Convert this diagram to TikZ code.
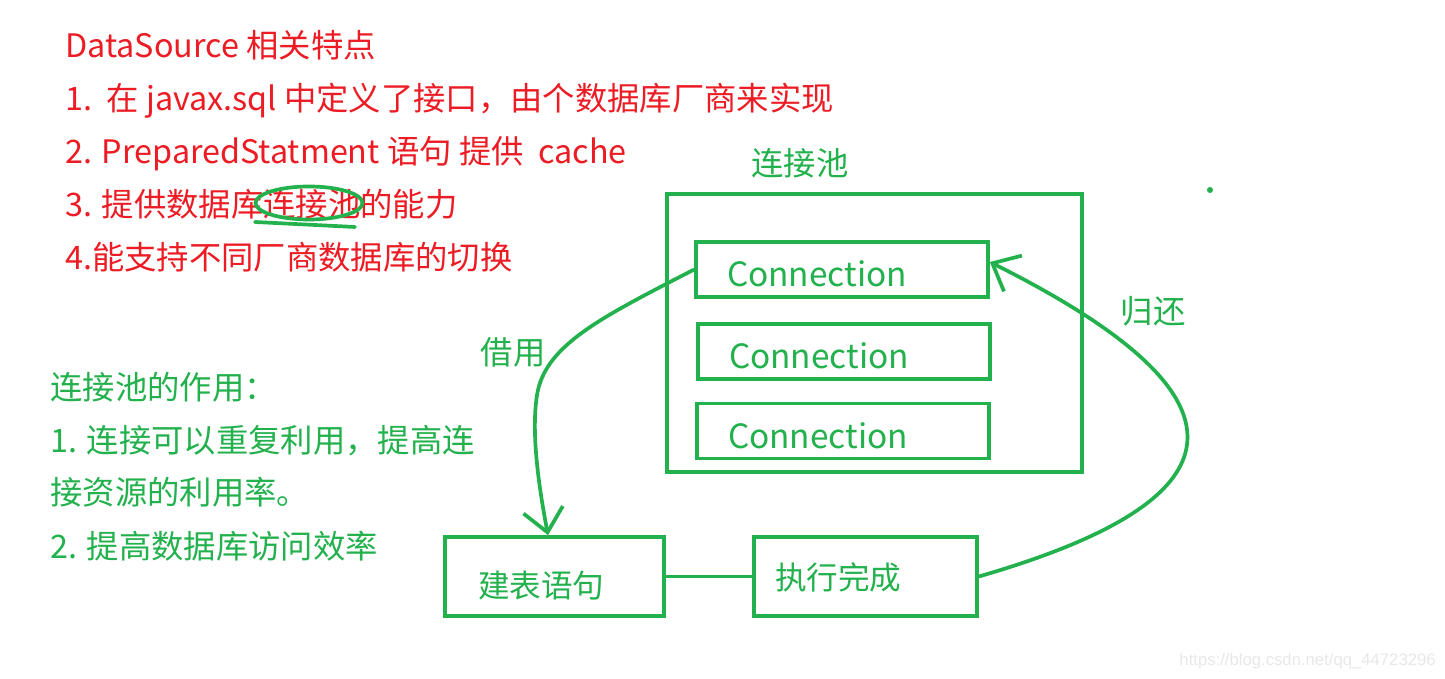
\documentclass[tikz,border=0pt]{standalone}
\usepackage{fontspec}
\setmainfont{Noto Sans CJK SC}
\newfontfamily\wmfont{Liberation Sans}
\usepackage{xcolor}
\usetikzlibrary{arrows.meta,positioning}
\definecolor{paintred}{HTML}{ED1C24}
\definecolor{paintgreen}{HTML}{22B14C}

\begin{document}
\begin{tikzpicture}[
    txt/.style={font=\fontsize{18.4}{22}\selectfont, inner sep=0pt, text height=0.88em, text depth=0.12em, anchor=west, yshift=-0.11cm},
    redline/.style={txt, text=paintred},
    greenline/.style={txt, text=paintgreen},
    box/.style={draw=paintgreen, line width=2.1pt, text=paintgreen, inner ysep=0pt},
    connbox/.style={box, font=\fontsize{19}{22}\selectfont, text width=4.6cm, inner xsep=0.62cm, minimum height=1.1cm, text height=0.7cm, text depth=0cm, align=left},
    stepbox/.style={box, font=\fontsize{18}{22}\selectfont, minimum height=1.58cm, align=left},
    flow/.style={draw=paintgreen, line width=2.1pt},
    barb/.style={-{Straight Barb[length=0.46cm, width=0.8cm]}}
]
    % fond et cadre de la page
    \fill[white] (0,0) rectangle (28.9,-13.58);
    \useasboundingbox (0,0) rectangle (28.9,-13.58);

    % Texte rouge : DataSource
    \node[redline] (r0) at (1.3,-0.9) {DataSource 相关特点};
    \node[redline] (r1) at (1.3,-1.96) {1.\ \ 在 javax.sql 中定义了接口，由个数据库厂商来实现};
    \node[redline] (r2) at (1.3,-3.02) {2. PreparedStatment 语句 提供\ \ cache};
    \node[redline] (r3) at (1.3,-4.08) {3. 提供数据库连接池的能力};
    \node[redline] (r4) at (1.3,-5.14) {4.能支持不同厂商数据库的切换};

    % cercle autour de "连接池"
    \draw[paintgreen, line width=2.1pt] (6.18,-4.06) ellipse (1.07 and 0.33);
    \draw[paintgreen, line width=2.1pt, line cap=round] (5.1,-4.44) .. controls (6.1,-4.5) .. (7.1,-4.54);

    % Texte vert : role du pool
    \node[greenline] (g0) at (1.0,-7.74) {连接池的作用：};
    \node[greenline] (g1) at (1.0,-8.8) {1. 连接可以重复利用，提高连};
    \node[greenline] (g2) at (1.0,-9.84) {接资源的利用率。};
    \node[greenline] (g3) at (1.0,-10.92) {2. 提高数据库访问效率};

    % Pool de connexions
    \node[txt, text=paintgreen, anchor=center] (poollabel) at (16.0,-3.26) {连接池};
    \node[box, minimum width=8.3cm, minimum height=5.56cm] (pool) at (17.49,-6.66) {};
    \node[connbox] (c1) at (16.84,-5.39) {Connection};
    \node[connbox] (c2) at (16.88,-7.03) {Connection};
    \node[connbox] (c3) at (16.86,-8.62) {Connection};

    % Etapes
    \node[stepbox, text width=3.06cm, inner xsep=0.66cm, text height=0.9cm, text depth=0.08cm] (jb) at (11.09,-11.53) {建表语句};
    \node[stepbox, text width=3.62cm, inner xsep=0.42cm, text height=0.62cm, text depth=0.08cm] (zx) at (17.31,-11.53) {执行完成};
    \draw[flow] (jb.east) -- (zx.west);

    % Emprunt
    \coordinate (borrowbend) at (10.74,-7.9);
    \draw[flow, barb] (c1.west) .. controls +(-1.86,-0.96) and +(0.16,1.0) .. (borrowbend)
        .. controls +(-0.1,-0.64) and +(-0.24,1.26) .. ([xshift=-0.13cm]jb.north);
    \node[txt, text=paintgreen, anchor=center] (borrow) at (10.26,-7.04) {借用};

    % Retour
    \draw[flow, barb] (zx.east) .. controls +(5.4,1.56) and +(5.4,-2.7) .. ([yshift=0.15cm]c1.east);
    \node[txt, text=paintgreen, anchor=center] (giveback) at (23.06,-6.22) {归还};

    % point isole
    \fill[paintgreen] (24.2,-3.8) circle (0.06);

    % filigrane
    \node[anchor=east, inner sep=0pt, text=black!9, font=\wmfont\fontsize{9.5}{11}\selectfont] (wm) at (28.72,-13.22) {https://blog.csdn.net/qq\_44723296};
\end{tikzpicture}
\end{document}
